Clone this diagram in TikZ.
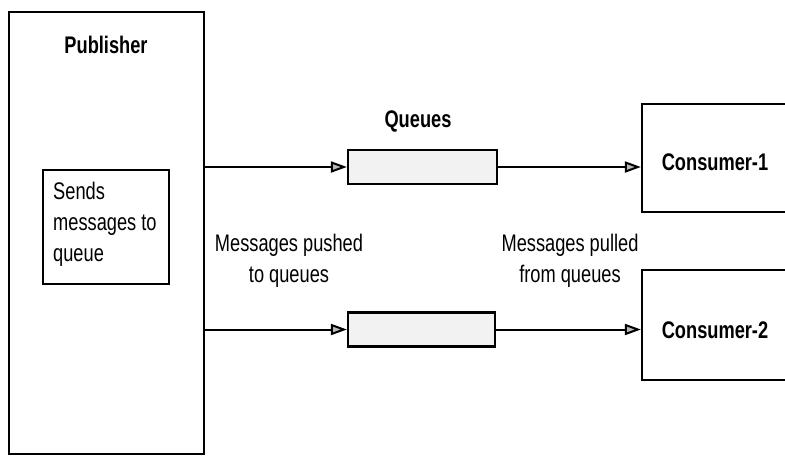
\documentclass[tikz,border=0pt]{standalone}
\usepackage{fontspec}
\setmainfont[FakeStretch=0.76]{Liberation Sans}
\usetikzlibrary{arrows.meta}
\begin{document}
\begin{tikzpicture}[x=1pt,y=-1pt,
  boxline/.style={draw=black, line width=2.2pt},
  bigbox/.style={boxline, inner sep=0pt},
  queuebox/.style={boxline, fill=gray!10, inner sep=0pt, minimum width=148pt, minimum height=34pt},
  lbl/.style={font=\fontsize{24}{31}\selectfont, align=center, inner sep=0pt},
  title/.style={font=\fontsize{24}{31}\selectfont\bfseries, inner sep=0pt},
  conn/.style={line width=2pt, -{Triangle[length=16pt 0,width=11pt 0,fill=gray!55]}}
]
\clip (0,0) rectangle (785,456);
\fill[white] (0,0) rectangle (785,456);

% publisher
\node[bigbox, minimum width=195pt, minimum height=442pt] (pub) at (106.5,233) {};
\node[title] (pubt) at (106,45) {Publisher};
\node[bigbox, minimum width=126pt, minimum height=114pt] (send) at (106,227) {};
\node[lbl, align=left, anchor=north west] (sendt) at (53,182) {Sends\\messages to\\queue};

% queues
\node[queuebox, minimum width=149pt] (q1) at (422.5,167) {};
\node[queuebox, minimum width=147pt] (q2) at (421.5,329.5) {};
\node[title] (qt) at (418,121) {Queues};

% consumers
\node[bigbox, minimum width=148pt, minimum height=108pt] (c1) at (716,158) {};
\node[title] (c1t) at (715,162) {Consumer-1};
\node[bigbox, minimum width=148pt, minimum height=110pt] (c2) at (716,325) {};
\node[title] (c2t) at (715,330) {Consumer-2};

% labels
\node[lbl] (push) at (289,261) {Messages pushed\\to queues};
\node[lbl] (pull) at (570,261) {Messages pulled\\from queues};

% connectors
\draw[conn] (q1.west -| pub.east) -- (q1.west);
\draw[conn] (q2.west -| pub.east) -- (q2.west);
\draw[conn] (q1.east) -- (q1.east -| c1.west);
\draw[conn] (q2.east) -- (q2.east -| c2.west);
\end{tikzpicture}
\end{document}
